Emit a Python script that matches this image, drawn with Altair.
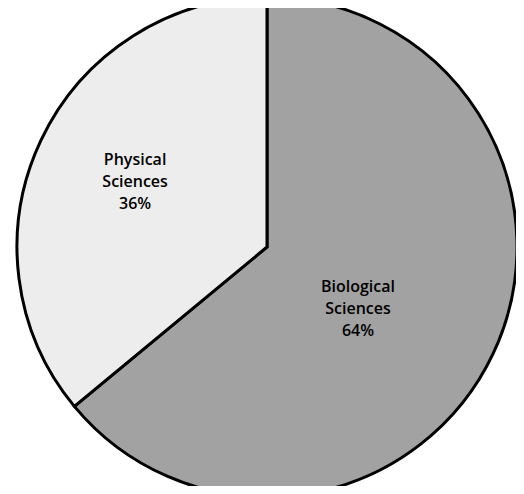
import altair as alt
import pandas as pd

# ---- data ----
categories = ["Biological Sciences", "Physical Sciences"]
shares = [64, 36]
label_text = ["Biological\nSciences\n64%", "Physical\nSciences\n36%"]
slice_order = [0, 1]

# ---- styling / layout ----
fills = ["#a2a2a2", "#ededed"]
CX, CY, R = 259, 239, 250
# label placement: radius in px and angular nudge in degrees, per category
label_radius = {"Biological Sciences": 110, "Physical Sciences": 147}
label_turn = {"Biological Sciences": 9, "Physical Sciences": 1}

df = pd.DataFrame({
    "category": categories,
    "share": shares,
    "label": label_text,
    "order": slice_order,
})

r_expr = " : ".join(
    f"datum.category == '{k}' ? {v}" for k, v in label_radius.items()
) + " : 120"
t_expr = " : ".join(
    f"datum.category == '{k}' ? {v}" for k, v in label_turn.items()
) + " : 0"

base = alt.Chart(df)

arc = base.mark_arc(stroke="black", strokeWidth=3).encode(
    theta=alt.Theta("share:Q", stack=True),
    order=alt.Order("order:Q"),
    color=alt.Color("category:N",
                    scale=alt.Scale(domain=categories, range=fills),
                    legend=None),
    x=alt.value(CX),
    y=alt.value(CY),
    radius=alt.value(R),
)

text = base.transform_joinaggregate(
    total="sum(share)"
).transform_window(
    cum="sum(share)", sort=[alt.SortField("order")], frame=[None, 0]
).transform_calculate(
    ang=f"2*PI*(datum.cum - datum.share/2)/datum.total + ({t_expr})*PI/180",
    rr=r_expr,
).transform_calculate(
    px=f"{CX} + datum.rr*sin(datum.ang)",
    py=f"{CY} - datum.rr*cos(datum.ang)",
).mark_text(
    lineBreak="\n", font="Open Sans", fontSize=16, lineHeight=22,
    fontWeight=600, align="center", baseline="middle", color="#000000",
    dy=-22,
).encode(
    x=alt.X("px:Q", scale=None, axis=None),
    y=alt.Y("py:Q", scale=None, axis=None),
    text="label:N",
)

chart = alt.layer(arc, text).properties(
    width=508, height=478, padding=0, background="white",
    autosize=alt.AutoSizeParams(type="none"),
).configure_view(stroke=None)

chart.save("out.html", embed_options={"renderer": "svg", "actions": False})
